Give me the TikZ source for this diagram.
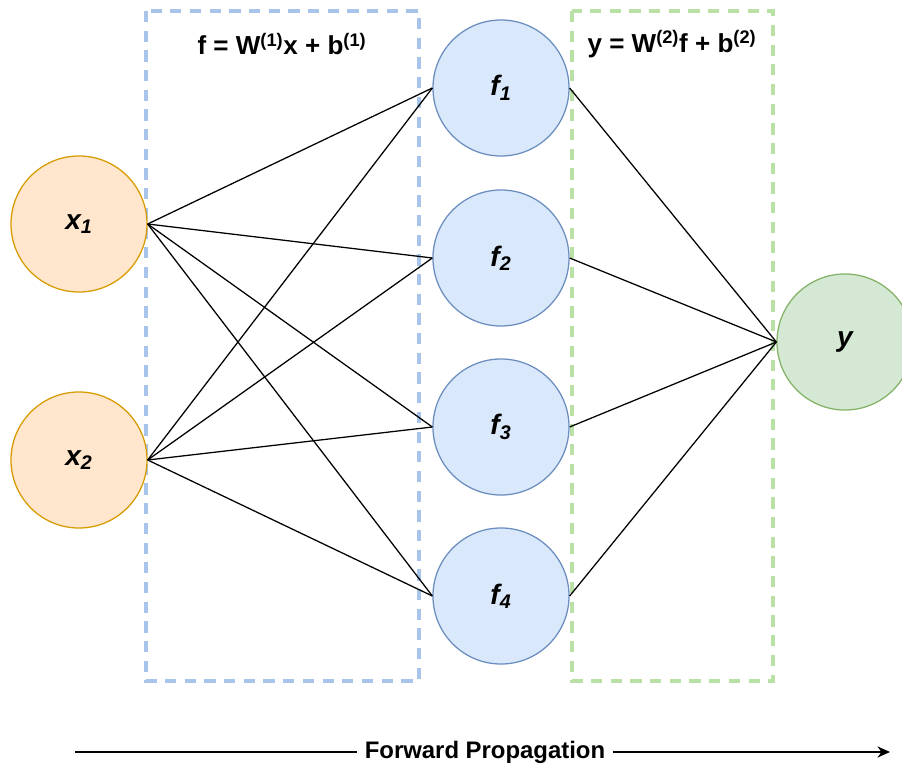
\documentclass[tikz,border=0pt]{standalone}
\usepackage{fontspec}
\setmainfont{Liberation Sans}
\usetikzlibrary{arrows.meta}

\definecolor{inFill}{HTML}{FFE6CC}
\definecolor{inDraw}{HTML}{D79B00}
\definecolor{hidFill}{HTML}{DAE8FC}
\definecolor{hidDraw}{HTML}{6C8EBF}
\definecolor{outFill}{HTML}{D5E8D4}
\definecolor{outDraw}{HTML}{82B366}
\definecolor{blueDash}{HTML}{A9C4EB}
\definecolor{greenDash}{HTML}{B9E0A5}

\begin{document}
\begin{tikzpicture}[
    x=0.025cm,
    y=-0.025cm,
    neuron/.style={circle, draw, line width=0.9pt, minimum size=3.4cm, inner sep=0pt, font=\fontsize{20}{23}\selectfont\bfseries\itshape},
    input/.style={neuron, fill=inFill, draw=inDraw},
    hidden/.style={neuron, fill=hidFill, draw=hidDraw},
    output/.style={neuron, fill=outFill, draw=outDraw},
    layer/.style={dash pattern=on 8pt off 6pt, line width=2.2pt},
    formula/.style={font=\fontsize{18.5}{22}\selectfont\bfseries},
    conn/.style={line width=0.9pt},
    fplabel/.style={font=\fontsize{17}{20}\selectfont\bfseries, inner sep=5pt},
    arrow/.style={conn, -{Stealth[length=9pt, width=8pt]}}
]
\useasboundingbox (0,0) rectangle (902,768);

% Layer boxes
\draw[layer, blueDash] (146,11) rectangle (419,681);
\draw[layer, greenDash] (572,11) rectangle (773,681);

\node[formula] (eq1) at (282,44) {f = W\textsuperscript{(1)}x + b\textsuperscript{(1)}};
\node[formula] (eq2) at (672,44) {y = W\textsuperscript{(2)}f + b\textsuperscript{(2)}};

% Input layer
\node[input] (x1) at (79,224) {x\textsubscript{1}};
\node[input] (x2) at (79,460) {x\textsubscript{2}};

% Hidden layer
\node[hidden] (f1) at (501,88) {f\textsubscript{1}};
\node[hidden] (f2) at (501,258) {f\textsubscript{2}};
\node[hidden] (f3) at (501,427) {f\textsubscript{3}};
\node[hidden] (f4) at (501,596) {f\textsubscript{4}};

% Output layer
\node[output] (y) at (845,342) {y};

% Input to hidden
\draw[conn] (x1.east) -- (f1.west);
\draw[conn] (x1.east) -- (f2.west);
\draw[conn] (x1.east) -- (f3.west);
\draw[conn] (x1.east) -- (f4.west);
\draw[conn] (x2.east) -- (f1.west);
\draw[conn] (x2.east) -- (f2.west);
\draw[conn] (x2.east) -- (f3.west);
\draw[conn] (x2.east) -- (f4.west);

% Hidden to output
\draw[conn] (f1.east) -- (y.west);
\draw[conn] (f2.east) -- (y.west);
\draw[conn] (f3.east) -- (y.west);
\draw[conn] (f4.east) -- (y.west);

% Forward propagation
\coordinate (fpStart) at (75,752);
\coordinate (fpEnd) at (890,752);
\node[fplabel] (fp) at (485,752) {Forward Propagation};
\draw[conn] (fpStart) -- (fp);
\draw[arrow] (fp) -- (fpEnd);

\end{tikzpicture}
\end{document}
